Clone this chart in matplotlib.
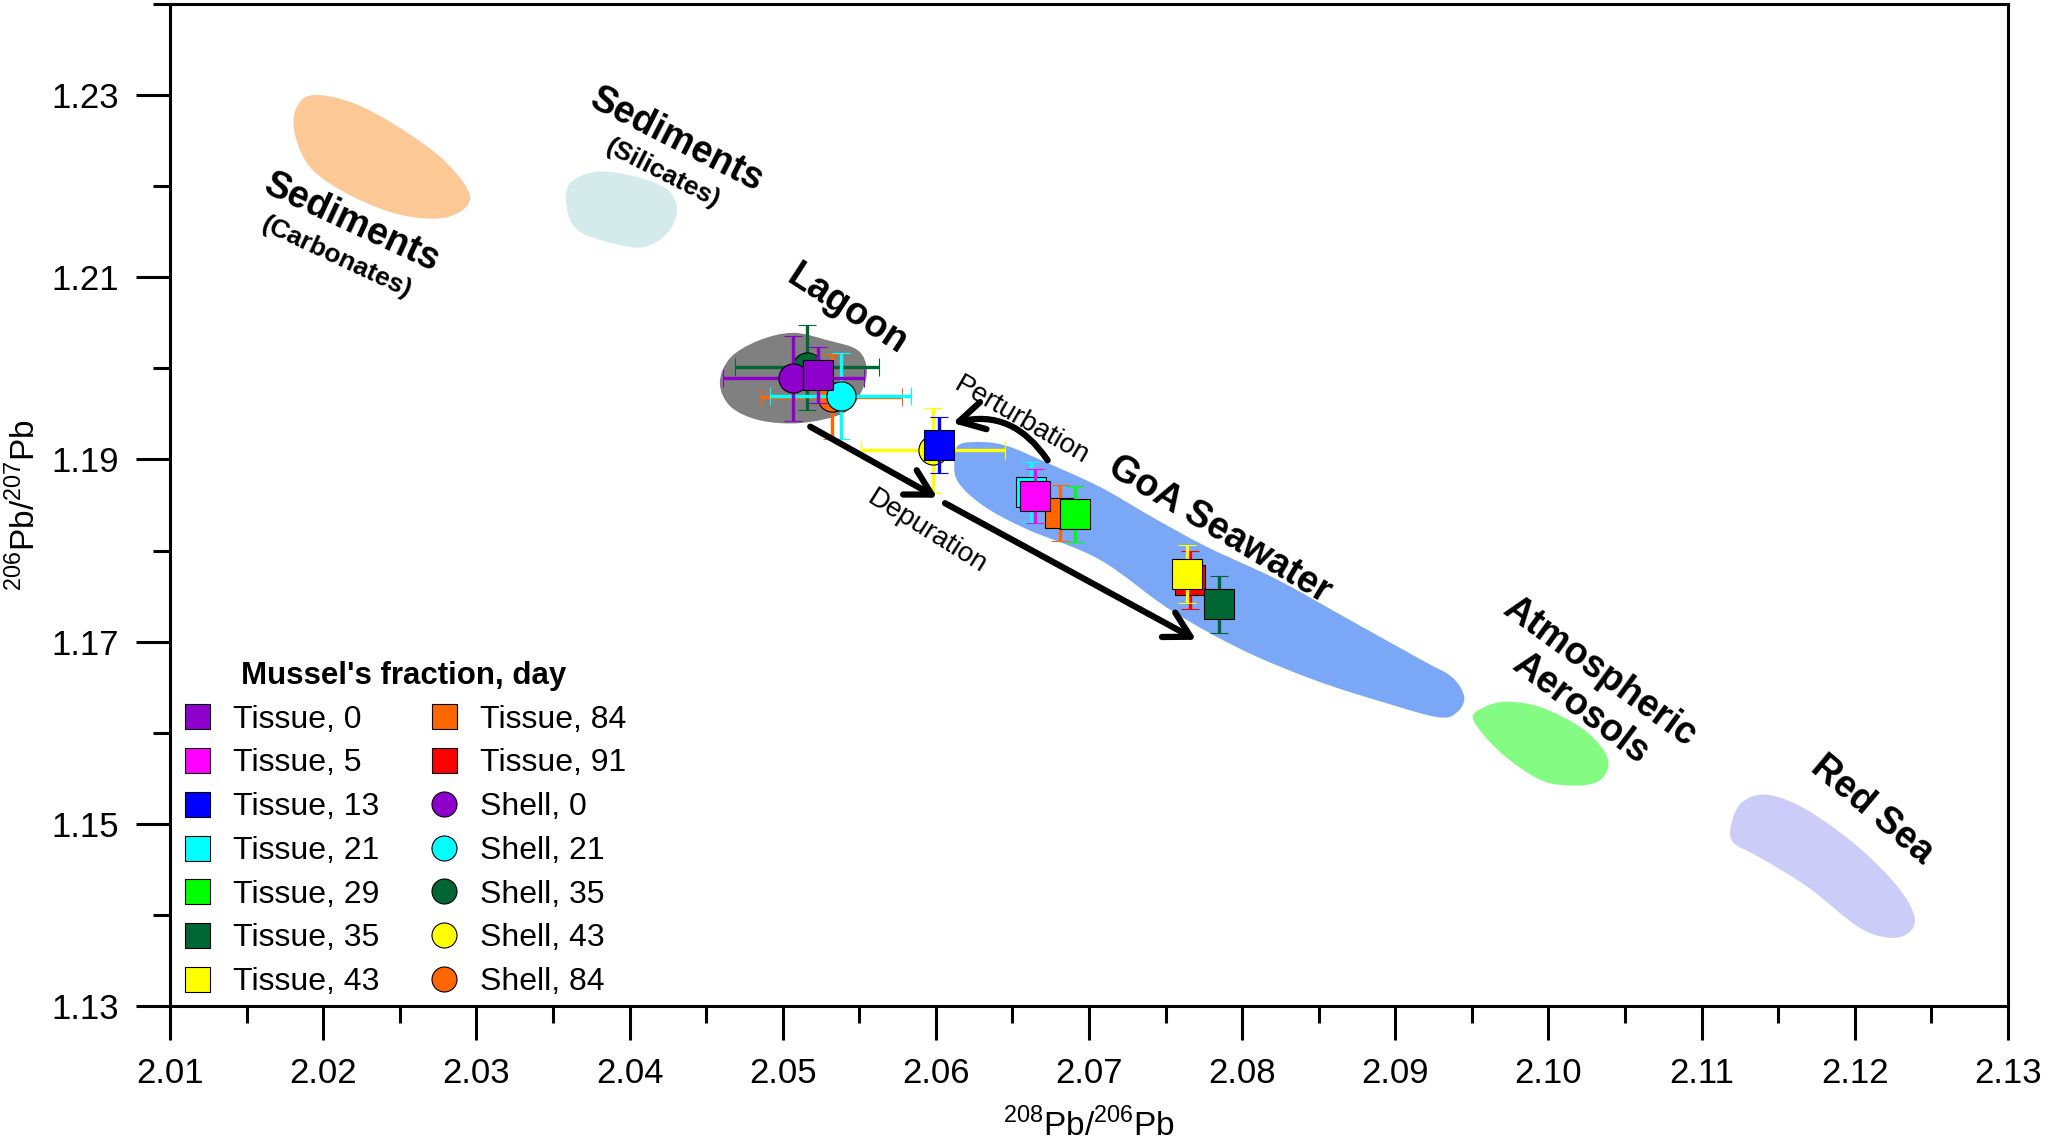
import numpy as np
import matplotlib
matplotlib.use('Agg')
import matplotlib.pyplot as plt
from matplotlib.path import Path
from matplotlib.patches import PathPatch
from matplotlib.lines import Line2D

plt.rcParams['font.family'] = ['Liberation Sans', 'DejaVu Sans']
plt.rcParams['mathtext.fontset'] = 'custom'
plt.rcParams['mathtext.rm'] = 'Liberation Sans'

# ---- mussel data: 208Pb/206Pb, 206Pb/207Pb, errors ----
tissue_days = [0, 5, 13, 21, 29, 35, 43, 84, 91]
tissue_colors = ['#8E00CC', '#FF00FF', '#0000FF', '#00FFFF', '#00FF00',
                 '#006633', '#FFFF00', '#FF6600', '#FF0000']
tissue_x = [2.0523, 2.0665, 2.0602, 2.0662, 2.0691, 2.0785, 2.0764, 2.0681, 2.0766]
tissue_y = [1.1993, 1.1860, 1.1916, 1.1864, 1.1840, 1.1741, 1.1774, 1.1841, 1.1768]
tissue_yerr = [0.0031, 0.0030, 0.0031, 0.0033, 0.0031, 0.0031, 0.0032, 0.0031, 0.0032]

shell_days = [0, 21, 35, 43, 84]
shell_colors = ['#8E00CC', '#00FFFF', '#006633', '#FFFF00', '#FF6600']
shell_x = [2.0507, 2.0538, 2.0516, 2.0598, 2.0532]
shell_y = [1.1989, 1.1970, 1.2001, 1.1910, 1.1969]
shell_xerr = [0.0046, 0.0046, 0.0047, 0.0047, 0.0046]
shell_yerr = [0.0047, 0.0047, 0.0047, 0.0047, 0.0047]

# ---- source fields (outline points, data units) ----
carb_x = [2.0182, 2.0193, 2.0220, 2.0252, 2.0281, 2.0296, 2.0281, 2.0252, 2.0220, 2.0193, 2.0182]
carb_y = [1.2284, 1.2300, 1.2291, 1.2262, 1.2225, 1.2187, 1.2166, 1.2168, 1.2188, 1.2218, 1.2254]
sil_x = [2.0361, 2.0379, 2.0405, 2.0425, 2.0431, 2.0425, 2.0409, 2.0387, 2.0366, 2.0359]
sil_y = [1.2203, 1.2216, 1.2210, 1.2196, 1.2174, 1.2149, 1.2133, 1.2138, 1.2152, 1.2177]
lag_x = [2.0459, 2.0466, 2.0485, 2.0507, 2.0529, 2.0549, 2.0555, 2.0551, 2.0540, 2.0512, 2.0485, 2.0466]
lag_y = [1.1984, 1.2012, 1.2031, 1.2039, 1.2031, 1.2020, 1.1998, 1.1973, 1.1951, 1.1940, 1.1943, 1.1958]
goa_x = [2.0615, 2.0632, 2.0648, 2.0669, 2.0707, 2.0741, 2.0777, 2.0823, 2.0870, 2.0917,
         2.0937, 2.0945, 2.0940, 2.0928, 2.0893, 2.0847, 2.0800, 2.0753, 2.0707, 2.0660,
         2.0632, 2.0615, 2.0612]
goa_y = [1.1916, 1.1919, 1.1914, 1.1899, 1.1870, 1.1837, 1.1804, 1.1768, 1.1724, 1.1680,
         1.1661, 1.1639, 1.1622, 1.1617, 1.1633, 1.1658, 1.1691, 1.1735, 1.1790, 1.1823,
         1.1848, 1.1874, 1.1896]
aer_x = [2.0951, 2.0958, 2.0973, 2.0995, 2.1021, 2.1036, 2.1039, 2.1032, 2.1016, 2.0995, 2.0969]
aer_y = [1.1614, 1.1628, 1.1634, 1.1628, 1.1606, 1.1581, 1.1562, 1.1546, 1.1542, 1.1548, 1.1578]
red_x = [2.1119, 2.1126, 2.1143, 2.1169, 2.1202, 2.1228, 2.1239, 2.1235, 2.1222, 2.1202, 2.1169, 2.1137, 2.1121]
red_y = [1.1497, 1.1523, 1.1532, 1.1515, 1.1475, 1.1431, 1.1398, 1.1380, 1.1375, 1.1387, 1.1431, 1.1464, 1.1479]

fields = [(carb_x, carb_y, '#FCC896'), (sil_x, sil_y, '#D5EAEA'),
          (lag_x, lag_y, '#808080'), (goa_x, goa_y, '#7AA7F6'),
          (aer_x, aer_y, '#84FC84'), (red_x, red_y, '#CCCCF8')]

# labels: text, x, y, rotation, size, weight
labels = [('Sediments', 2.0219, 1.2160, -25, 27, 'bold'),
          ('(Carbonates)', 2.0209, 1.2122, -25, 19, 'bold'),
          ('Sediments', 2.0431, 1.2251, -27, 27, 'bold'),
          ('(Silicates)', 2.0422, 1.2214, -27, 19, 'bold'),
          ('Lagoon', 2.0542, 1.2064, -33, 27, 'bold'),
          ('Perturbation', 2.0656, 1.1943, -30, 20, 'normal'),
          ('Depuration', 2.0594, 1.1821, -32, 20, 'normal'),
          ('GoA Seawater', 2.0785, 1.1823, -31, 27, 'bold'),
          ('Atmospheric', 2.1033, 1.1667, -36, 27, 'bold'),
          ('Aerosols', 2.1021, 1.1627, -37, 27, 'bold'),
          ('Red Sea', 2.1211, 1.1515, -40, 27, 'bold')]

# arrows (start, end)
dep_arrows = [((2.0518, 1.1936), (2.0601, 1.1858)),
              ((2.0606, 1.1852), (2.0770, 1.1702))]
pert_arrow = ((2.0673, 1.1899), (2.0611, 1.1940))


def smooth_patch(xs, ys, color):
    pts = np.column_stack([xs, ys])
    n = len(pts)
    verts = [pts[0]]
    codes = [Path.MOVETO]
    for i in range(n):
        p0, p1, p2, p3 = pts[i - 1], pts[i], pts[(i + 1) % n], pts[(i + 2) % n]
        verts += [p1 + (p2 - p0) / 6, p2 - (p3 - p1) / 6, p2]
        codes += [Path.CURVE4] * 3
    return PathPatch(Path(verts, codes), facecolor=color, edgecolor='none', zorder=1)


fig = plt.figure(figsize=(20.46, 11.45), dpi=100)
ax = fig.add_axes([0.0831, 0.1214, 0.8983, 0.8751])

for fx, fy, fc in fields:
    ax.add_patch(smooth_patch(fx, fy, fc))

# draw in reverse order so that earlier series sit on top
z = 3
for i in reversed(range(len(shell_days))):
    ax.errorbar(shell_x[i], shell_y[i], xerr=shell_xerr[i], yerr=shell_yerr[i],
                fmt='o', ms=21, mfc=shell_colors[i], mec='black', mew=0.8,
                ecolor=shell_colors[i], elinewidth=2.4, capsize=6.5, capthick=2.7, zorder=z)
    z += 1
for i in reversed(range(len(tissue_days))):
    ax.errorbar(tissue_x[i], tissue_y[i], yerr=tissue_yerr[i],
                fmt='s', ms=21, mfc=tissue_colors[i], mec='black', mew=0.8,
                ecolor=tissue_colors[i], elinewidth=2.4, capsize=6.5, capthick=2.7, zorder=z)
    z += 1

for start, end in dep_arrows:
    ax.annotate('', xy=end, xytext=start,
                arrowprops=dict(arrowstyle='->,head_length=0.9,head_width=0.5',
                                lw=4.5, color='black', mutation_scale=20,
                                shrinkA=0, shrinkB=0), zorder=30)
ax.annotate('', xy=pert_arrow[1], xytext=pert_arrow[0],
            arrowprops=dict(arrowstyle='->,head_length=0.9,head_width=0.5',
                            lw=4.5, color='black', mutation_scale=20,
                            connectionstyle='arc3,rad=0.35',
                            shrinkA=0, shrinkB=0), zorder=30)

for txt, tx, ty, rot, size, weight in labels:
    ax.text(tx, ty, txt, rotation=rot, rotation_mode='anchor', ha='center', va='center',
            fontsize=size, fontweight=weight, zorder=40)

ax.set_xlim(2.01, 2.13)
ax.set_ylim(1.13, 1.24)
ax.set_xticks(np.arange(2.01, 2.1301, 0.01))
ax.set_xticklabels(['%.2f' % v for v in np.arange(2.01, 2.1301, 0.01)])
ax.set_xticks(np.arange(2.015, 2.13, 0.01), minor=True)
ax.set_yticks(np.arange(1.13, 1.2301, 0.02))
ax.set_yticklabels(['%.2f' % v for v in np.arange(1.13, 1.2301, 0.02)])
ax.set_yticks(np.arange(1.14, 1.24, 0.02), minor=True)
ax.tick_params(which='major', direction='out', length=24.5, width=2.2, labelsize=25, pad=12)
ax.tick_params(which='minor', direction='out', length=12, width=2.2)
for sp in ax.spines.values():
    sp.set_linewidth(2.2)

ax.set_xlabel(r'$^{208}$Pb/$^{206}$Pb', fontsize=24, labelpad=13)
ax.set_ylabel(r'$^{206}$Pb/$^{207}$Pb', fontsize=24, labelpad=7)

handles = []
names = []
for d, c in zip(tissue_days, tissue_colors):
    handles.append(Line2D([], [], marker='s', ls='none', ms=18, mfc=c, mec='black', mew=0.8))
    names.append('Tissue, %d' % d)
for d, c in zip(shell_days, shell_colors):
    handles.append(Line2D([], [], marker='o', ls='none', ms=18, mfc=c, mec='black', mew=0.8))
    names.append('Shell, %d' % d)
leg = ax.legend(handles, names, ncol=2, title="Mussel's fraction, day",
                title_fontproperties={'weight': 'bold', 'size': 22.5}, fontsize=23,
                frameon=False, loc='lower left', bbox_to_anchor=(0.006, 0.009),
                borderpad=0, borderaxespad=0, handlelength=1.0, handletextpad=0.63,
                columnspacing=1.53, labelspacing=0.43)
leg.set_zorder(50)

fig.savefig('out.png', dpi=100)
